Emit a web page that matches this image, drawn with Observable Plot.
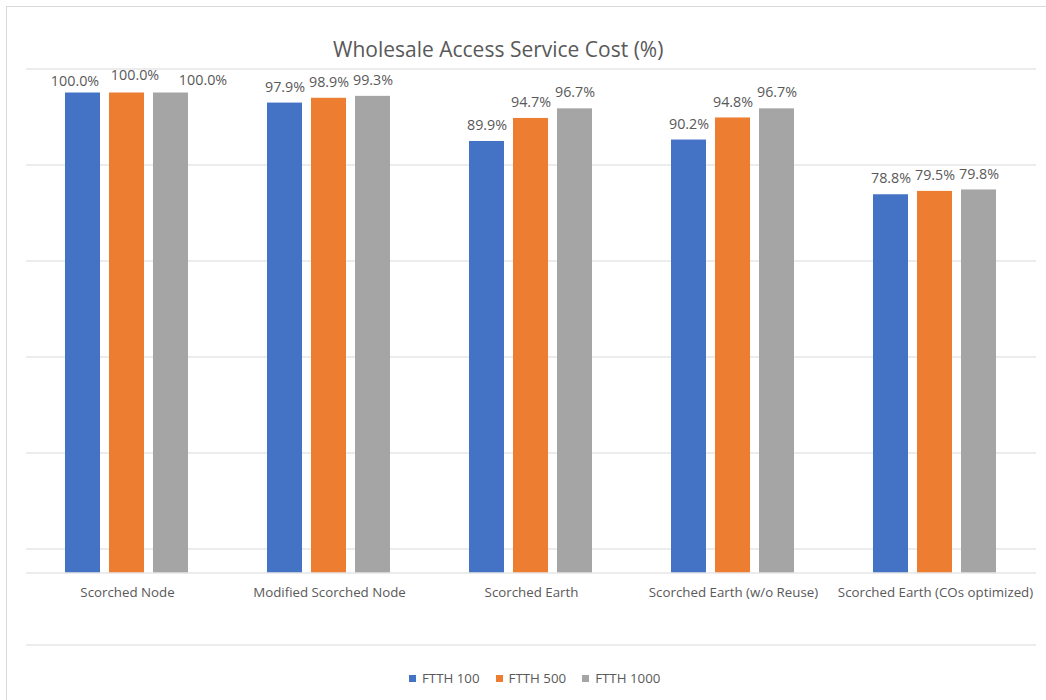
<!DOCTYPE html>
<html>
<head>
<meta charset="utf-8">
<script src="https://cdn.jsdelivr.net/npm/d3@7"></script>
<script src="https://cdn.jsdelivr.net/npm/@observablehq/plot@0.6"></script>
<style>
  html, body { margin: 0; padding: 0; background: #fff; overflow: hidden; }
  body { width: 1046px; height: 700px; position: relative; font-family: "Open Sans", sans-serif; color: #595959; }
  #frame { position: absolute; left: 6px; top: 6px; width: 1200px; height: 900px; border-top: 1px solid #d9d9d9; border-left: 1px solid #d9d9d9; pointer-events: none; }
  #title { height: 60px; box-sizing: border-box; padding-top: 35px; padding-left: 333px; font-size: 21px; line-height: 28px; white-space: nowrap; }
  #chart svg { display: block; }
  #legend { height: 40px; box-sizing: border-box; padding-left: 409px; padding-top: 9px; font-size: 13.3px; line-height: 18px; white-space: nowrap; }
  #legend span.item { margin-right: 16px; }
  #legend span.sw { display: inline-block; width: 7px; height: 7px; margin-right: 6px; vertical-align: 1px; }
</style>
</head>
<body>
<div id="frame"></div>
<div id="title">Wholesale Access Service Cost (%)</div>
<div id="chart"></div>
<div id="legend"></div>
<script>
const categories = ["Scorched Node", "Modified Scorched Node", "Scorched Earth", "Scorched Earth (w/o Reuse)", "Scorched Earth (COs optimized)"];
const series = ["FTTH 100", "FTTH 500", "FTTH 1000"];
const ftth100 = [100.0, 97.9, 89.9, 90.2, 78.8];
const ftth500 = [100.0, 98.9, 94.7, 94.8, 79.5];
const ftth1000 = [100.0, 99.3, 96.7, 96.7, 79.8];
const colors = ["#4472C4", "#ED7D31", "#A5A5A5"];
const gridTicks = [-15, 5, 25, 45, 65, 85, 105];

const seriesValues = [ftth100, ftth500, ftth1000];
const data = categories.flatMap((c, i) => series.map((s, j) => ({category: c, series: s, value: seriesValues[j][i]})));

// Excel nudges the crowded labels of the first group apart
const crowdedDx = [-8, 8, 32];
const crowdedDy = [-12, -18, -13];
const labelText = d => d.value.toFixed(1) + "%";
const labelStyle = {fill: "#595959", fontSize: 14.3};

const labelMarks = [
  Plot.text(data.filter(d => d.category !== categories[0]), {fx: "category", x: "series", y: "value", text: labelText, dy: -16, ...labelStyle}),
  ...series.map((s, j) => Plot.text(data.filter(d => d.category === categories[0] && d.series === s), {fx: "category", x: "series", y: "value", text: labelText, dx: crowdedDx[j], dy: crowdedDy[j], ...labelStyle}))
];

const chart = Plot.plot({
  width: 1046,
  height: 600,
  marginTop: 8.5,
  marginBottom: 15.5,
  marginLeft: 25,
  marginRight: 9.5,
  style: {fontFamily: "Open Sans", fontSize: "13px", color: "#595959", background: "transparent"},
  fx: {domain: categories, padding: 0, axis: null},
  x: {domain: series, paddingInner: 0.2, paddingOuter: 0.848, axis: null},
  y: {domain: [-15, 105], axis: null},
  color: {domain: series, range: colors},
  marks: [
    Plot.gridY(gridTicks, {stroke: "#d9d9d9", strokeOpacity: 1}),
    Plot.barY(data, {fx: "category", x: "series", y: "value", fill: "series"}),
    Plot.ruleY([0], {stroke: "#d9d9d9", strokeWidth: 1.2}),
    ...labelMarks,
    Plot.text(categories, {fx: d => d, y: () => 0, text: d => d, dy: 20, fill: "#595959", fontSize: 13.3})
  ]
});
document.getElementById("chart").appendChild(chart);

const legend = document.getElementById("legend");
series.forEach((s, j) => {
  const item = document.createElement("span");
  item.className = "item";
  const sw = document.createElement("span");
  sw.className = "sw";
  sw.style.background = colors[j];
  item.appendChild(sw);
  item.appendChild(document.createTextNode(s));
  legend.appendChild(item);
});
</script>
</body>
</html>
